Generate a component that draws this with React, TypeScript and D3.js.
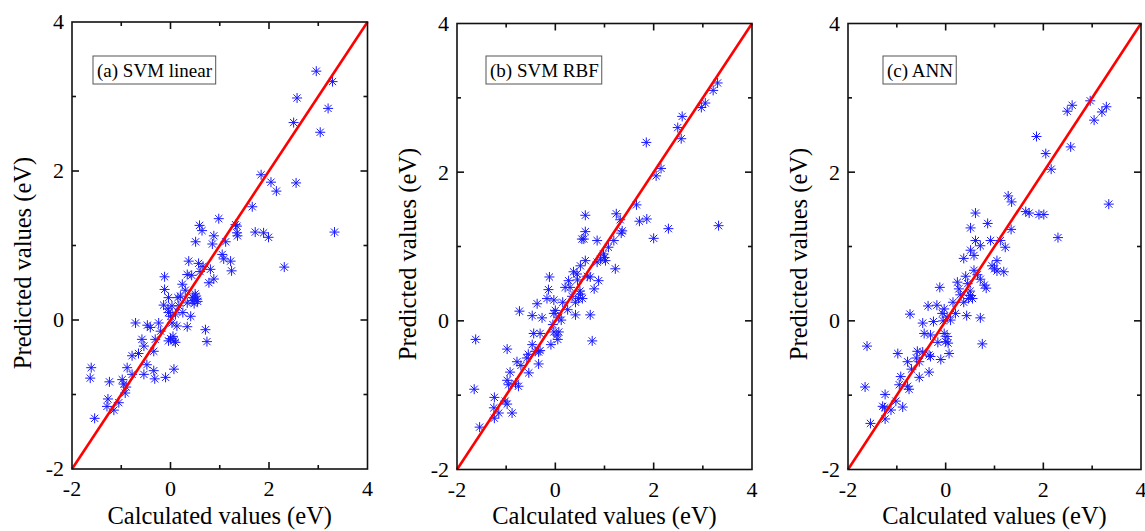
import React, { useEffect, useRef } from 'react'
import * as d3 from 'd3'

// calculated vs predicted values (eV)
const svmLinear: [number, number][] = [
  [-1.54, -1.32], [-1.29, -1.16], [-1.27, -1.06], [-1.15, -1.21], [-1.05, -1.11], [-0.92, -0.98],
  [-1.24, -0.83], [-0.98, -0.8], [-0.95, -0.86], [-1.61, -0.64], [-1.63, -0.78], [-0.88, -0.64],
  [-0.78, -0.73], [-0.54, -0.73], [-0.34, -0.68], [-0.32, -0.79], [-0.1, -0.77], [0.07, -0.66],
  [-0.78, -0.48], [-0.48, -0.6], [-0.54, -0.35], [-0.34, -0.42], [-0.58, -0.26], [-0.31, -0.26],
  [-0.04, -0.28], [0.07, -0.28], [0, -0.25], [0.74, -0.29], [0.71, -0.13], [-0.71, -0.04],
  [-0.47, -0.07], [-0.41, -0.1], [-0.24, -0.04], [0.03, -0.04], [0.13, -0.08], [0.34, -0.09],
  [0.41, 0.05], [0.1, 0.08], [-0.04, 0.1], [0.03, 0.19], [0.17, 0.19], [-0.14, 0.2],
  [0.34, 0.23], [0.44, 0.26], [0.54, 0.28], [0.51, 0.32], [0.2, 0.32], [-0.04, 0.3],
  [-0.12, 0.41], [0.24, 0.48], [-0.12, 0.58], [0.78, 0.5], [0.88, 0.55], [0.81, 0.68],
  [0.34, 0.61], [0.43, 0.6], [0.66, 0.72], [0.57, 0.76], [0.37, 0.79], [1.24, 0.66],
  [1.22, 0.79], [1.08, 0.82], [1.05, 0.88], [1.12, 1.05], [0.85, 1.02], [0.88, 1.13],
  [0.51, 1.05], [1.35, 1.17], [1.32, 1.28], [0.64, 1.2], [0.59, 1.27], [0.98, 1.36],
  [1.35, 1.26], [1.36, 1.13], [1.66, 1.52], [1.72, 1.18], [1.89, 1.17], [1.99, 1.11],
  [2.31, 0.71], [3.33, 1.18], [1.84, 1.95], [2.04, 1.85], [2.15, 1.73], [2.55, 1.84],
  [2.5, 2.65], [3.04, 2.52], [3.2, 2.84], [2.57, 2.98], [3.29, 3.2], [2.96, 3.34],
  [0.5, 0.35], [0.55, 0.25], [0.48, 0.22], [0.3, 0.4], [0.15, 0.3], [0, 0.05],
  [-0.05, 0.15], [0.1, -0.3], [0.05, -0.22], [0.45, 0.3], [0.6, 0.65], [0.25, 0.1],
  [-0.2, -0.15], [-0.65, -0.45], [-0.9, -0.9]
]

const svmRbf: [number, number][] = [
  [-1.54, -1.43], [-1.24, -1.31], [-1.15, -1.24], [-0.88, -1.24], [-1.25, -1.17], [-0.98, -1.12],
  [-1.02, -1.08], [-1.24, -1.03], [-1.65, -0.92], [-0.95, -0.86], [-0.81, -0.84], [-0.75, -0.88],
  [-0.98, -0.8], [-0.92, -0.69], [-0.54, -0.7], [-0.78, -0.55], [-0.58, -0.5], [-0.34, -0.58],
  [-0.98, -0.38], [-0.47, -0.32], [-0.41, -0.41], [-0.34, -0.42], [-0.31, -0.4], [-1.62, -0.25],
  [-0.09, -0.32], [0.75, -0.27], [-0.03, -0.15], [0.03, -0.19], [0.07, -0.15], [-0.44, -0.17],
  [-0.31, -0.17], [-0.73, 0.13], [-0.47, 0.07], [-0.27, 0.04], [-0.03, 0.1], [0, 0.14],
  [0.07, 0.05], [0.12, 0.01], [0.41, 0.08], [0.71, 0.08], [-0.37, 0.23], [-0.03, 0.28],
  [-0.17, 0.3], [0.34, 0.33], [0.41, 0.25], [0.47, 0.3], [0.51, 0.36], [0.2, 0.45],
  [0.27, 0.54], [-0.14, 0.42], [-0.12, 0.59], [0.79, 0.43], [0.88, 0.54], [0.71, 0.59],
  [0.44, 0.63], [0.37, 0.66], [0.51, 0.74], [0.61, 0.81], [1.22, 0.7], [0.85, 0.79],
  [1.02, 0.81], [0.92, 0.83], [0.98, 0.9], [1.08, 0.99], [1.19, 1.08], [0.85, 1.08],
  [0.54, 1.1], [0.58, 1.1], [0.61, 1.2], [1.34, 1.18], [1.36, 1.21], [1.32, 1.36],
  [1.24, 1.44], [0.61, 1.42], [1.65, 1.56], [1.71, 1.34], [1.86, 1.37], [2.0, 1.11],
  [2.3, 1.24], [3.32, 1.28], [2.05, 1.95], [2.15, 2.05], [1.85, 2.4], [2.56, 2.45],
  [2.49, 2.6], [2.58, 2.75], [2.97, 2.87], [3.05, 2.93], [3.21, 3.1], [3.3, 3.2],
  [0.5, 0.4], [0.55, 0.3], [0.3, 0.45], [0.15, 0.25], [0.45, 0.55], [0.25, 0.15],
  [-0.05, -0.05], [0.05, -0.25], [-0.55, -0.45], [-0.7, -0.6], [1.0, 0.85], [0.65, 0.6]
]

const ann: [number, number][] = [
  [-1.54, -1.38], [-1.24, -1.32], [-1.12, -1.2], [-1.29, -1.15], [-1.25, -1.17], [-0.88, -1.16],
  [-1.02, -1.08], [-1.24, -0.99], [-1.65, -0.89], [-0.95, -0.86], [-0.78, -0.88], [-0.75, -0.92],
  [-0.92, -0.75], [-0.54, -0.76], [-0.34, -0.69], [-0.78, -0.55], [-0.54, -0.55], [-0.98, -0.44],
  [-0.58, -0.41], [-0.47, -0.42], [-0.34, -0.46], [-0.31, -0.48], [-0.1, -0.52], [0.07, -0.44],
  [-1.61, -0.34], [0.75, -0.31], [0, -0.28], [-0.16, -0.29], [-0.03, -0.17], [0.03, -0.21],
  [-0.44, -0.17], [-0.31, -0.19], [-0.47, -0.03], [-0.25, -0.01], [0.1, 0.01], [0.03, 0.05],
  [-0.07, 0.1], [-0.03, 0.16], [0.43, 0.07], [0.71, 0.04], [-0.73, 0.09], [-0.36, 0.2],
  [-0.18, 0.21], [0.37, 0.25], [0.47, 0.3], [0.51, 0.34], [0.27, 0.43], [0.24, 0.52],
  [-0.12, 0.45], [0.83, 0.44], [0.79, 0.48], [0.71, 0.56], [0.41, 0.6], [0.58, 0.68],
  [1.05, 0.67], [1.19, 0.66], [0.95, 0.74], [1.05, 0.81], [0.37, 0.84], [0.58, 0.88],
  [0.51, 0.95], [0.71, 1.01], [1.22, 0.99], [0.61, 1.08], [0.92, 1.08], [1.12, 1.08],
  [0.51, 1.25], [1.34, 1.23], [0.86, 1.31], [0.61, 1.45], [1.28, 1.68], [1.35, 1.6],
  [1.64, 1.47], [1.71, 1.45], [1.91, 1.43], [2.01, 1.43], [2.3, 1.12], [3.34, 1.57],
  [2.16, 2.04], [2.05, 2.25], [1.86, 2.48], [2.56, 2.34], [2.49, 2.82], [2.59, 2.9],
  [2.96, 2.96], [3.04, 2.7], [3.2, 2.81], [3.29, 2.88],
  [0.5, 0.4], [0.55, 0.3], [0.3, 0.35], [0.15, 0.25], [0.45, 0.5], [0.2, 0.1],
  [-0.05, 0], [0.05, -0.3], [-0.6, -0.5], [-0.7, -0.65], [1.0, 0.7], [0.65, 0.62]
]

const panelLabels = ['(a) SVM linear', '(b) SVM RBF', '(c) ANN']
const majorTicks = [-2, 0, 2, 4]
const minorTicks = [-1, 1, 3]
const xTitle = 'Calculated values (eV)'
const yTitle = 'Predicted values (eV)'

const font = "'Liberation Serif', 'Times New Roman', 'DejaVu Serif', serif"

const panels = [
  { data: svmLinear, left: 72, right: 367.5, top: 22, bottom: 469, boxX: 93, yTitleY: 263 },
  { data: svmRbf, left: 457, right: 752, top: 23.5, bottom: 469.5, boxX: 486, yTitleY: 254 },
  { data: ann, left: 848, right: 1141, top: 23.5, bottom: 469.5, boxX: 883, yTitleY: 254 }
]

const star = 'M-5,0H5M0,-5V5M-3.6,-3.6L3.6,3.6M-3.6,3.6L3.6,-3.6'

export default function App() {
  const ref = useRef<SVGSVGElement>(null)

  useEffect(() => {
    const svg = d3.select(ref.current)
    svg.selectAll('*').remove()

    panels.forEach((p, i) => {
      const x = d3.scaleLinear().domain([-2, 4]).range([p.left, p.right])
      const y = d3.scaleLinear().domain([-2, 4]).range([p.bottom, p.top])
      const g = svg.append('g')

      // points
      g.selectAll('path.pt')
        .data(p.data)
        .enter().append('path')
        .attr('class', 'pt')
        .attr('d', star)
        .attr('transform', d => `translate(${x(d[0])},${y(d[1])})`)
        .attr('fill', 'none')
        .attr('stroke', '#1a1aff')
        .attr('stroke-width', 1)

      // y = x reference line
      const line = d3.line<number>().x(d => x(d)).y(d => y(d))
      g.append('path')
        .attr('d', line([-2, 4]))
        .attr('stroke', '#ff0000')
        .attr('stroke-width', 2.6)
        .attr('fill', 'none')

      // frame
      g.append('rect')
        .attr('x', p.left).attr('y', p.top)
        .attr('width', p.right - p.left).attr('height', p.bottom - p.top)
        .attr('fill', 'none').attr('stroke', '#111').attr('stroke-width', 1.6)

      // inward ticks on all four sides
      const ticks = [...majorTicks.map(v => ({ v, len: 7 })), ...minorTicks.map(v => ({ v, len: 4 }))]
        .filter(t => t.v > -2 && t.v < 4)
      ticks.forEach(t => {
        g.append('line').attr('x1', x(t.v)).attr('x2', x(t.v)).attr('y1', p.bottom).attr('y2', p.bottom - t.len)
        g.append('line').attr('x1', x(t.v)).attr('x2', x(t.v)).attr('y1', p.top).attr('y2', p.top + t.len)
        g.append('line').attr('y1', y(t.v)).attr('y2', y(t.v)).attr('x1', p.left).attr('x2', p.left + t.len)
        g.append('line').attr('y1', y(t.v)).attr('y2', y(t.v)).attr('x1', p.right).attr('x2', p.right - t.len)
      })
      g.selectAll('line').attr('stroke', '#111').attr('stroke-width', 1.6)

      // tick labels
      majorTicks.forEach(v => {
        g.append('text')
          .attr('x', x(v)).attr('y', p.bottom + 27)
          .attr('text-anchor', 'middle')
          .style('font-family', font).style('font-size', '22px')
          .text(v)
        g.append('text')
          .attr('x', p.left - 8).attr('y', y(v)).attr('dy', '0.34em')
          .attr('text-anchor', 'end')
          .style('font-family', font).style('font-size', '22px')
          .text(v)
      })

      // axis titles
      g.append('text')
        .attr('x', (p.left + p.right) / 2).attr('y', 524)
        .attr('text-anchor', 'middle')
        .style('font-family', font).style('font-size', '24.5px')
        .text(xTitle)
      g.append('text')
        .attr('transform', `translate(${p.left - 41},${p.yTitleY}) rotate(-90)`)
        .attr('text-anchor', 'middle')
        .style('font-family', font).style('font-size', '24.5px')
        .text(yTitle)

      // panel label in a box
      const label = g.append('text')
        .attr('x', p.boxX + 4).attr('y', 77)
        .style('font-family', font).style('font-size', '19px')
        .text(panelLabels[i])
      const bb = (label.node() as SVGTextElement).getBBox()
      g.insert('rect', 'text')
        .attr('x', p.boxX).attr('y', 56)
        .attr('width', bb.width + 7).attr('height', 28)
        .attr('fill', 'white').attr('stroke', '#555').attr('stroke-width', 1)
    })
  }, [])

  return (
    <svg ref={ref} width={1145} height={531}
      style={{ position: 'absolute', left: 0, top: 0, background: 'white', fontFamily: font }} />
  )
}
